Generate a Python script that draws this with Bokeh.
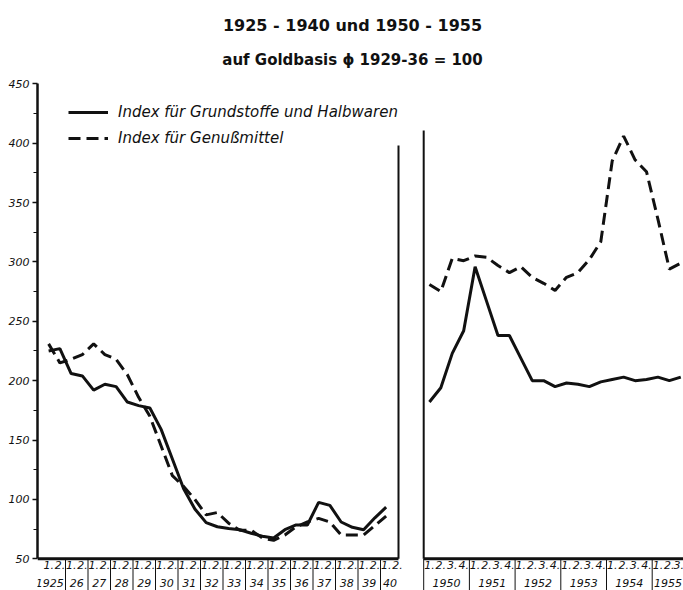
from bokeh.plotting import figure
from bokeh.models import Range1d, FixedTicker, Legend, LegendItem
from bokeh.core.properties import value
from bokeh.embed import file_html
from bokeh.resources import INLINE

# ---------------- data ----------------
years_left = list(range(1925, 1941))
halves = [1, 2]
# semi-annual values 1925/1 .. 1940/1
grund_1925_40 = [225, 227, 206, 204, 192, 197, 195, 182, 179, 177, 159, 134,
                 109, 92, 80.5, 77, 75.5, 74.5, 71.5, 69, 67.5, 74.5, 78.5, 78.5,
                 97.5, 95, 81, 76.5, 74.5, 84.5, 93.5]
genuss_1925_40 = [231, 215, 218, 222, 231, 222, 218, 205, 186, 170, 145, 120,
                  111, 100, 87, 89, 80, 74, 74, 67.5, 65.5, 70, 77, 81,
                  84, 81, 70, 70, 70, 78, 86]

years_right = list(range(1950, 1956))
quarters = [1, 2, 3, 4]
# quarterly values 1950/1 .. 1955/3
grund_1950_55 = [182, 194, 223, 242, 296, 267, 238, 238, 219, 200, 200, 195,
                 198, 197, 195, 199, 201, 203, 200, 201, 203, 200, 203]
genuss_1950_55 = [281, 275, 303, 301, 305, 304, 297, 291, 296, 287, 282, 276,
                  287, 291, 302, 317, 385, 406, 386, 376, 336, 294, 299]

y_ticks = [50, 100, 150, 200, 250, 300, 350, 400, 450]
y_minor = [75, 125, 175, 225, 275, 325, 375, 425]

title1 = "1925 - 1940 und 1950 - 1955"
title2 = "auf Goldbasis \u03d5 1929-36 = 100"
label_grund = "Index f\u00fcr Grundstoffe und Halbwaren"
label_genuss = "Index f\u00fcr Genu\u00dfmittel"

# ---------------- layout constants ----------------
W, H = 683, 590
OFF = 0                      # canvas origin in page pixels
FRAME_LEFT_IMG = 37          # y-axis position in page pixels
FRAME_W = W - (FRAME_LEFT_IMG - OFF)
K = 1.1875                   # px per index unit
Y50_IMG = 558.3


def y_at(img_y):
    return 50 + (Y50_IMG - img_y) / K


y_top = y_at(OFF)
y_bot = y_at(OFF + H)

PX_L = 22.5                  # px per year, left panel
X1925_IMG = 42.5
xl0 = 1925 - (X1925_IMG - FRAME_LEFT_IMG) / PX_L
xl1 = xl0 + FRAME_W / PX_L
PX_R = 45.7                  # px per year, right panel
X1950_IMG = 423.2
xr0 = 1950 - (X1950_IMG - FRAME_LEFT_IMG) / PX_R
xr1 = xr0 + FRAME_W / PX_R
LEFT_END = 1925 + (398 - X1925_IMG) / PX_L

x_left = [y + (h - 0.5) / 2 for y in years_left for h in halves][:len(grund_1925_40)]
x_right = [y + (q - 0.5) / 4 for y in years_right for q in quarters][:len(grund_1950_55)]

FONT = value("DejaVu Sans")
INK = "#111111"
DASH = "12 6"

p = figure(width=W, height=H, output_backend="svg", toolbar_location=None,
           x_range=Range1d(xl0, xl1), y_range=Range1d(y_bot, y_top),
           x_axis_location=None, y_axis_location="left",
           min_border_left=FRAME_LEFT_IMG - OFF, min_border_right=0,
           min_border_top=0, min_border_bottom=0)
p.extra_x_ranges = {"r": Range1d(xr0, xr1)}
p.grid.visible = False
p.outline_line_color = None
p.background_fill_color = "white"
p.border_fill_color = "white"

ax = p.yaxis[0]
ax.ticker = FixedTicker(ticks=y_ticks, minor_ticks=y_minor)
ax.bounds = (50, 450)
ax.axis_line_width = 2.5
ax.axis_line_color = INK
ax.major_tick_out = 5
ax.major_tick_in = 0
ax.major_tick_line_width = 1.5
ax.major_tick_line_color = INK
ax.minor_tick_out = 4
ax.minor_tick_in = 0
ax.minor_tick_line_width = 1.2
ax.minor_tick_line_color = INK
ax.major_label_standoff = 3
ax.major_label_text_font = "DejaVu Sans"
ax.major_label_text_font_style = "italic"
ax.major_label_text_font_size = "11px"
ax.major_label_text_color = INK

# ---------------- panel frame lines ----------------
p.segment(x0=[xl0], y0=[50], x1=[LEFT_END], y1=[50], line_width=3, line_color=INK)
p.segment(x0=[LEFT_END], y0=[50], x1=[LEFT_END], y1=[y_at(145)], line_width=2, line_color=INK)
p.segment(x0=[1950], y0=[50], x1=[xr1 + 1], y1=[50], line_width=3, line_color=INK, x_range_name="r")
p.segment(x0=[1950], y0=[y_at(130)], x1=[1950], y1=[50], line_width=2, line_color=INK, x_range_name="r")

# year separators below the baseline
sep_l = years_left[1:]
p.segment(x0=sep_l, y0=[50] * len(sep_l), x1=sep_l, y1=[y_bot] * len(sep_l),
          line_width=1, line_color=INK)
p.segment(x0=years_right, y0=[50] * len(years_right), x1=years_right,
          y1=[y_bot] * len(years_right), line_width=1, line_color=INK, x_range_name="r")

# ---------------- x labels ----------------
row1 = y_at(564)
row2 = y_at(582)
lab_kw = dict(text_font=FONT, text_font_style="italic", text_font_size="11px",
              text_color=INK, text_baseline="middle")
hx = [y + (h - 0.5) / 2 for y in years_left for h in halves if y + (h - 1) / 2 < LEFT_END - 0.2]
ht = ["%d." % h for y in years_left for h in halves if y + (h - 1) / 2 < LEFT_END - 0.2]
p.text(x=hx, y=[row1] * len(hx), text=ht, text_align="center", **lab_kw)
p.text(x=[years_left[0] + 0.92], y=[row2], text=[str(years_left[0])], text_align="right", **lab_kw)
yl = years_left[1:]
p.text(x=[y + 0.5 if y < 1940 else y + 0.42 for y in yl], y=[row2] * len(yl),
       text=["%02d" % (y % 100) for y in yl], text_align="center", **lab_kw)

# right panel: keep labels inside the canvas edge (the reference is cut there)
EDGE_R = xr1 - 1.5 / PX_R
qx, qt = [], []
for y in years_right:
    for q in quarters:
        xq = y + (q - 0.5) / 4
        if xq < EDGE_R - 0.02:
            qx.append(min(xq, EDGE_R - 0.07))
            qt.append("%d." % q)
p.text(x=qx, y=[row1] * len(qx), text=qt, text_align="center", x_range_name="r", **lab_kw)
yc = [y + 0.5 for y in years_right[:-1]]
p.text(x=yc, y=[row2] * len(yc), text=[str(y) for y in years_right[:-1]],
       text_align="center", x_range_name="r", **lab_kw)
p.text(x=[EDGE_R], y=[row2], text=[str(years_right[-1])],
       text_align="right", x_range_name="r", **lab_kw)

# ---------------- titles ----------------
tx = 1925 + (352 - X1925_IMG) / PX_L
p.text(x=[tx], y=[y_at(25)], text=[title1],
       text_font=FONT, text_font_style="bold", text_font_size="16px",
       text_color=INK, text_align="center", text_baseline="middle")
p.text(x=[tx], y=[y_at(59)], text=[title2],
       text_font=FONT, text_font_style="bold", text_font_size="15px",
       text_color=INK, text_align="center", text_baseline="middle")

# ---------------- series ----------------
r1 = p.line(x_left, grund_1925_40, line_width=3, line_color=INK)
r2 = p.line(x_left, genuss_1925_40, line_width=3, line_color=INK, line_dash=DASH)
p.line(x_right, grund_1950_55, line_width=3, line_color=INK, x_range_name="r")
p.line(x_right, genuss_1950_55, line_width=3, line_color=INK, line_dash=DASH, x_range_name="r")

legend = Legend(items=[LegendItem(label=label_grund, renderers=[r1]),
                       LegendItem(label=label_genuss, renderers=[r2])],
                location=(68 - FRAME_LEFT_IMG, (OFF + H) - 148),
                border_line_color=None, background_fill_alpha=0,
                padding=0, margin=0, spacing=6, glyph_width=40, glyph_height=20,
                label_height=20, label_standoff=10,
                label_text_font="DejaVu Sans", label_text_font_style="italic",
                label_text_font_size="15px", label_text_color=INK)
p.add_layout(legend)

open("out.html", "w").write(file_html(p, INLINE))
